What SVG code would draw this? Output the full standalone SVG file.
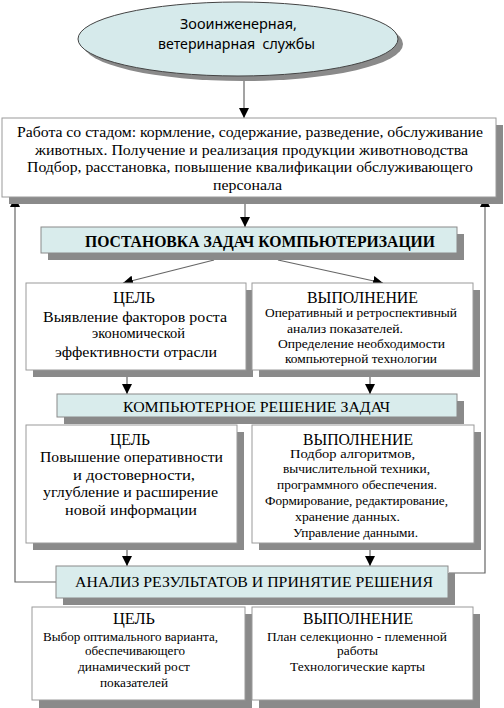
<svg xmlns="http://www.w3.org/2000/svg" width="504" height="708" viewBox="0 0 504 708">
<defs>
<marker id="ah" markerUnits="userSpaceOnUse" markerWidth="10" markerHeight="10" viewBox="0 0 10 10" refX="10" refY="5" orient="auto">
<path d="M0,0 L10,5 L0,10 z" fill="#000"/>
</marker>
</defs>
<style>
.sh{fill:#8a8a8a}
.bx{fill:#fff;stroke:#9a9a9a;stroke-width:1}
.bl{fill:#d9ecec;stroke:#8a8a8a;stroke-width:1}
text.t{font-family:'Liberation Serif','DejaVu Serif',serif;fill:#000;text-anchor:middle}
text.s{font-family:'Noto Sans','Open Sans',sans-serif;fill:#000;text-anchor:middle}
.ln{fill:none;stroke:#666;stroke-width:1.2}
.ar{marker-end:url(#ah)}
</style>
<rect width="504" height="708" fill="#fff"/>

<g id="connectors">
<line class="ln ar" x1="244" y1="80" x2="244" y2="118"/>
<line class="ln ar" x1="245" y1="204" x2="245" y2="227"/>
<line class="ln ar" x1="214" y1="260" x2="123" y2="283"/>
<line class="ln ar" x1="278" y1="260" x2="383" y2="283"/>
<line class="ln ar" x1="127" y1="377" x2="127" y2="394"/>
<line class="ln ar" x1="370" y1="377" x2="370" y2="394"/>
<line class="ln ar" x1="127" y1="550" x2="127" y2="566"/>
<line class="ln ar" x1="370" y1="550" x2="370" y2="566"/>
<polyline class="ln ar" points="56,582 15,582 15,197"/>
<polyline class="ln ar" points="449,573 485,573 485,197"/>
</g>

<g id="n-services">
<ellipse class="sh" cx="243" cy="44" rx="160" ry="37"/>
<ellipse cx="238" cy="39" rx="160" ry="37" fill="#d6eaeb" stroke="#444" stroke-width="1"/>
<text class="s" x="238.5" y="29" font-size="14" textLength="117" lengthAdjust="spacingAndGlyphs">Зооинженерная,</text>
<text class="s" x="236.5" y="49" font-size="14" xml:space="preserve" textLength="157" lengthAdjust="spacingAndGlyphs">ветеринарная  службы</text>
</g>

<g id="n-herd">
<rect class="sh" x="9" y="125" width="494" height="79"/>
<rect class="bx" x="2" y="118" width="494" height="79"/>
<text class="t" x="250" y="137" font-size="15" textLength="466" lengthAdjust="spacingAndGlyphs">Работа со стадом: кормление, содержание, разведение, обслуживание</text>
<text class="t" x="251.5" y="155" font-size="15" textLength="433" lengthAdjust="spacingAndGlyphs">животных. Получение и реализация продукции животноводства</text>
<text class="t" x="250" y="172" font-size="15" textLength="446" lengthAdjust="spacingAndGlyphs">Подбор, расстановка, повышение квалификации обслуживающего</text>
<text class="t" x="247.5" y="190" font-size="15" textLength="69" lengthAdjust="spacingAndGlyphs">персонала</text>
</g>

<g id="n-task">
<rect class="sh" x="48" y="234" width="416" height="26"/>
<rect class="bl" x="41" y="227" width="416" height="26"/>
<text class="t" x="260" y="247" font-size="16" font-weight="bold" textLength="350" lengthAdjust="spacingAndGlyphs">ПОСТАНОВКА ЗАДАЧ КОМПЬЮТЕРИЗАЦИИ</text>
</g>

<g id="n-goal1">
<rect class="sh" x="33" y="290" width="220" height="87"/>
<rect class="bx" x="26" y="283" width="220" height="87"/>
<text class="t" x="134" y="303" font-size="16" textLength="42" lengthAdjust="spacingAndGlyphs">ЦЕЛЬ</text>
<text class="t" x="135" y="322" font-size="15" textLength="184" lengthAdjust="spacingAndGlyphs">Выявление факторов роста</text>
<text class="t" x="138.5" y="338" font-size="15" textLength="93" lengthAdjust="spacingAndGlyphs">экономической</text>
<text class="t" x="136" y="357" font-size="15" textLength="162" lengthAdjust="spacingAndGlyphs">эффективности отрасли</text>
</g>

<g id="n-exec1">
<rect class="sh" x="259" y="290" width="221" height="87"/>
<rect class="bx" x="252" y="283" width="221" height="87"/>
<text class="t" x="362.5" y="303" font-size="16" textLength="111" lengthAdjust="spacingAndGlyphs">ВЫПОЛНЕНИЕ</text>
<text class="t" x="361" y="317" font-size="12.5" textLength="192" lengthAdjust="spacingAndGlyphs">Оперативный и ретроспективный</text>
<text class="t" x="345" y="333" font-size="12.5" textLength="116" lengthAdjust="spacingAndGlyphs">анализ показателей.</text>
<text class="t" x="361.5" y="348" font-size="12.5" textLength="167" lengthAdjust="spacingAndGlyphs">Определение необходимости</text>
<text class="t" x="361" y="363" font-size="12.5" textLength="152" lengthAdjust="spacingAndGlyphs">компьютерной технологии</text>
</g>

<g id="n-solve">
<rect class="sh" x="64" y="401" width="400" height="23"/>
<rect class="bl" x="57" y="394" width="400" height="23"/>
<text class="t" x="256.5" y="412" font-size="15" textLength="267" lengthAdjust="spacingAndGlyphs">КОМПЬЮТЕРНОЕ РЕШЕНИЕ ЗАДАЧ</text>
</g>

<g id="n-goal2">
<rect class="sh" x="33" y="432" width="211" height="118"/>
<rect class="bx" x="26" y="425" width="211" height="118"/>
<text class="t" x="130" y="445" font-size="16" textLength="40" lengthAdjust="spacingAndGlyphs">ЦЕЛЬ</text>
<text class="t" x="131.5" y="462" font-size="15" textLength="183" lengthAdjust="spacingAndGlyphs">Повышение оперативности</text>
<text class="t" x="134" y="480" font-size="15" textLength="122" lengthAdjust="spacingAndGlyphs">и достоверности,</text>
<text class="t" x="130.5" y="497" font-size="15" textLength="175" lengthAdjust="spacingAndGlyphs">углубление и расширение</text>
<text class="t" x="131" y="515" font-size="15" textLength="132" lengthAdjust="spacingAndGlyphs">новой информации</text>
</g>

<g id="n-exec2">
<rect class="sh" x="259" y="432" width="222" height="118"/>
<rect class="bx" x="252" y="425" width="222" height="118"/>
<text class="t" x="358" y="445" font-size="16" textLength="110" lengthAdjust="spacingAndGlyphs">ВЫПОЛНЕНИЕ</text>
<text class="t" x="352.5" y="458" font-size="12.5" textLength="125" lengthAdjust="spacingAndGlyphs">Подбор алгоритмов,</text>
<text class="t" x="356.5" y="473" font-size="12.5" textLength="147" lengthAdjust="spacingAndGlyphs">вычислительной техники,</text>
<text class="t" x="357" y="489" font-size="12.5" textLength="160" lengthAdjust="spacingAndGlyphs">программного обеспечения.</text>
<text class="t" x="356.5" y="505" font-size="12.5" textLength="183" lengthAdjust="spacingAndGlyphs">Формирование, редактирование,</text>
<text class="t" x="347.5" y="521" font-size="12.5" textLength="105" lengthAdjust="spacingAndGlyphs">хранение данных.</text>
<text class="t" x="355.5" y="537" font-size="12.5" textLength="125" lengthAdjust="spacingAndGlyphs">Управление данными.</text>
</g>

<g id="n-analysis">
<rect class="sh" x="63" y="573" width="392" height="32"/>
<rect class="bl" x="56" y="566" width="392" height="32"/>
<text class="t" x="254" y="587" font-size="15" textLength="358" lengthAdjust="spacingAndGlyphs">АНАЛИЗ РЕЗУЛЬТАТОВ И ПРИНЯТИЕ РЕШЕНИЯ</text>
</g>

<g id="n-goal3">
<rect class="sh" x="39" y="614" width="213" height="94"/>
<rect class="bx" x="32" y="607" width="213" height="93"/>
<text class="t" x="134" y="624" font-size="16" textLength="42" lengthAdjust="spacingAndGlyphs">ЦЕЛЬ</text>
<text class="t" x="130.5" y="641" font-size="13" textLength="175" lengthAdjust="spacingAndGlyphs">Выбор оптимального варианта,</text>
<text class="t" x="135" y="655" font-size="13" textLength="100" lengthAdjust="spacingAndGlyphs">обеспечивающего</text>
<text class="t" x="134" y="671" font-size="13" textLength="112" lengthAdjust="spacingAndGlyphs">динамический рост</text>
<text class="t" x="134" y="687" font-size="13" textLength="68" lengthAdjust="spacingAndGlyphs">показателей</text>
</g>

<g id="n-exec3">
<rect class="sh" x="259" y="614" width="221" height="94"/>
<rect class="bx" x="252" y="607" width="221" height="93"/>
<text class="t" x="358" y="624" font-size="16" textLength="110" lengthAdjust="spacingAndGlyphs">ВЫПОЛНЕНИЕ</text>
<text class="t" x="357" y="641" font-size="13" textLength="180" lengthAdjust="spacingAndGlyphs">План селекционно - племенной</text>
<text class="t" x="357.5" y="655" font-size="13" textLength="41" lengthAdjust="spacingAndGlyphs">работы</text>
<text class="t" x="357.5" y="671" font-size="13" textLength="135" lengthAdjust="spacingAndGlyphs">Технологические карты</text>
</g>
</svg>
